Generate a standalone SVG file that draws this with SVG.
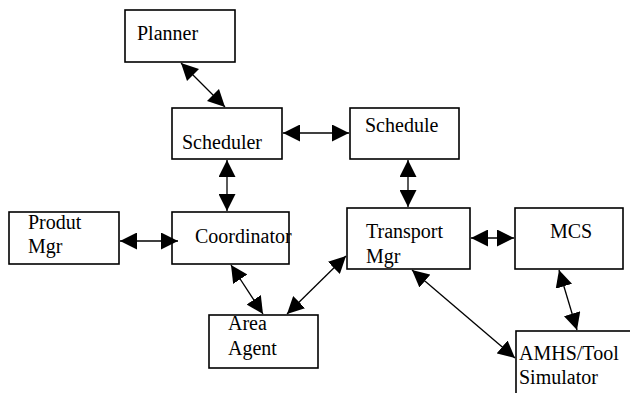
<svg xmlns="http://www.w3.org/2000/svg" width="630" height="393" viewBox="0 0 630 393">
<style>
.box{fill:#fff;stroke:#000;stroke-width:1.6}
.t{font-family:"Liberation Serif","Times New Roman",serif;font-size:20px;fill:#000}
.c{stroke:#000;stroke-width:1.3;fill:none;marker-start:url(#ah);marker-end:url(#ah)}
</style>
<defs>
<marker id="ah" markerUnits="userSpaceOnUse" markerWidth="17" markerHeight="17" refX="17" refY="8.5" orient="auto-start-reverse">
<path d="M0,0 L17,8.5 L0,17 z" fill="#000"/>
</marker>
</defs>
<rect width="630" height="393" fill="#fff"/>
<g id="planner"><rect class="box" x="125" y="10" width="110" height="52"/><text class="t" x="137" y="40">Planner</text></g>
<g id="scheduler"><rect class="box" x="172" y="108" width="110" height="51"/><text class="t" x="182" y="149">Scheduler</text></g>
<g id="schedule"><rect class="box" x="350" y="108" width="109" height="51"/><text class="t" x="365" y="132">Schedule</text></g>
<g id="produt-mgr"><rect class="box" x="9" y="212" width="110" height="52"/><text class="t" x="28" y="229">Produt</text><text class="t" x="28" y="253">Mgr</text></g>
<g id="coordinator"><rect class="box" x="172" y="212" width="117" height="52"/><text class="t" x="195" y="243">Coordinator</text></g>
<g id="transport-mgr"><rect class="box" x="347" y="208" width="123" height="61"/><text class="t" x="366" y="238">Transport</text><text class="t" x="366" y="263">Mgr</text></g>
<g id="mcs"><rect class="box" x="515" y="208" width="108" height="61"/><text class="t" x="550" y="238">MCS</text></g>
<g id="area-agent"><rect class="box" x="209" y="315" width="109" height="53"/><text class="t" x="228" y="330">Area</text><text class="t" x="228" y="355">Agent</text></g>
<g id="amhs"><rect class="box" x="516" y="331" width="130" height="80"/><text class="t" x="519" y="360">AMHS/Tool</text><text class="t" x="519" y="384">Simulator</text></g>
<g id="connectors">
<line class="c" x1="181" y1="63" x2="225" y2="107"/>
<line class="c" x1="283" y1="133" x2="349" y2="133"/>
<line class="c" x1="227" y1="160" x2="227" y2="211"/>
<line class="c" x1="120" y1="241" x2="178" y2="241"/>
<line class="c" x1="231" y1="265" x2="263" y2="314"/>
<line class="c" x1="346" y1="256" x2="287" y2="314"/>
<line class="c" x1="408" y1="160" x2="408" y2="207"/>
<line class="c" x1="471" y1="238" x2="514" y2="238"/>
<line class="c" x1="412" y1="270" x2="515" y2="358"/>
<line class="c" x1="559" y1="270" x2="577" y2="330"/>
</g>
</svg>
